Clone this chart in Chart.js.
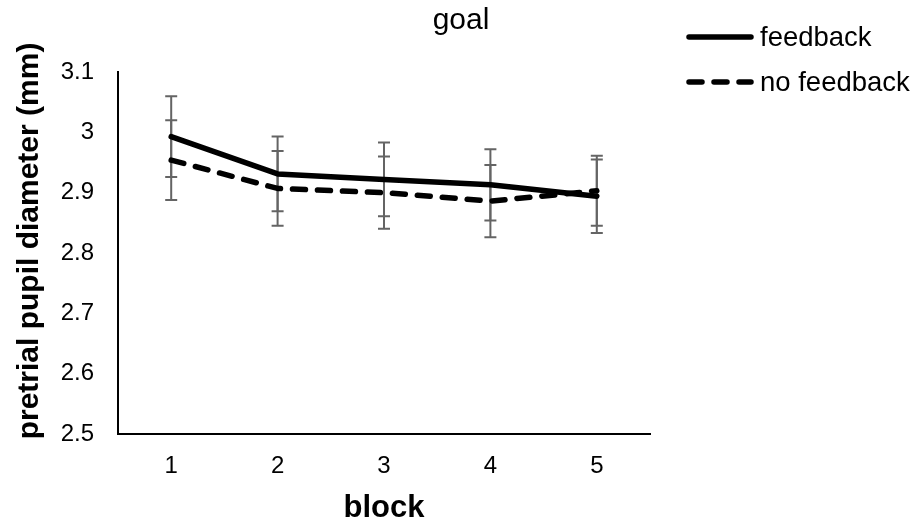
<!DOCTYPE html>
<html>
<head>
<meta charset="utf-8">
<script src="https://cdn.jsdelivr.net/npm/chart.js@4/dist/chart.umd.min.js"></script>
<style>
    html, body { margin: 0; padding: 0; background: #fff; }
    #chart { display: block; }
</style>
</head>
<body>
<canvas id="chart" width="913" height="525"></canvas>
<script>
const blocks = ['1', '2', '3', '4', '5'];
const feedbackMean = [2.993, 2.931, 2.922, 2.913, 2.894];
const feedbackErr = [0.067, 0.062, 0.061, 0.059, 0.061];
const noFeedbackMean = [2.954, 2.907, 2.900, 2.886, 2.903];
const noFeedbackErr = [0.066, 0.062, 0.060, 0.060, 0.058];
const seriesNames = ['feedback', 'no feedback'];

const FONT = "'Liberation Sans', Arial, sans-serif";

// error bars go under the lines
const errorBars = {
    id: 'errorBars',
    beforeDatasetsDraw(chart) {
        const { ctx, scales: { x, y } } = chart;
        ctx.save();
        ctx.strokeStyle = '#646464';
        ctx.lineWidth = 2;
        chart.data.datasets.forEach(ds => {
            ds.data.forEach((v, i) => {
                const px = x.getPixelForValue(i);
                const top = y.getPixelForValue(v + ds.errors[i]);
                const bot = y.getPixelForValue(v - ds.errors[i]);
                ctx.beginPath();
                ctx.moveTo(px, top); ctx.lineTo(px, bot);
                ctx.moveTo(px - 6, top); ctx.lineTo(px + 6, top);
                ctx.moveTo(px - 6, bot); ctx.lineTo(px + 6, bot);
                ctx.stroke();
            });
        });
        ctx.restore();
    }
};

// chart title, y axis title and legend are placed by hand
const annotations = {
    id: 'annotations',
    afterDraw(chart) {
        const { ctx } = chart;
        ctx.save();
        ctx.fillStyle = '#000';
        ctx.textBaseline = 'middle';

        ctx.font = `30px ${FONT}`;
        ctx.textAlign = 'center';
        ctx.fillText('goal', 461, 21);

        ctx.save();
        ctx.translate(30, 241);
        ctx.rotate(-Math.PI / 2);
        ctx.font = `bold 30px ${FONT}`;
        ctx.fillText('pretrial pupil diameter (mm)', 0, 0);
        ctx.restore();

        ctx.font = `27.5px ${FONT}`;
        ctx.textAlign = 'left';
        chart.data.datasets.forEach((ds, i) => {
            const ly = 37 + i * 45;
            ctx.beginPath();
            ctx.strokeStyle = ds.borderColor;
            ctx.lineWidth = ds.borderWidth;
            ctx.lineCap = 'round';
            ctx.setLineDash(ds.borderDash || []);
            ctx.moveTo(689, ly);
            ctx.lineTo(751, ly);
            ctx.stroke();
            ctx.setLineDash([]);
            ctx.fillText(ds.label, 760, ly + 1);
        });
        ctx.restore();
    }
};

new Chart(document.getElementById('chart').getContext('2d'), {
    type: 'line',
    data: {
        labels: blocks,
        datasets: [
            {
                label: seriesNames[0],
                data: feedbackMean,
                errors: feedbackErr,
                borderColor: '#000',
                borderWidth: 5.5,
                borderCapStyle: 'round',
                borderJoinStyle: 'round',
                pointRadius: 0,
                tension: 0
            },
            {
                label: seriesNames[1],
                data: noFeedbackMean,
                errors: noFeedbackErr,
                borderColor: '#000',
                borderWidth: 5.5,
                borderDash: [13, 12],
                borderCapStyle: 'round',
                borderJoinStyle: 'round',
                pointRadius: 0,
                tension: 0
            }
        ]
    },
    options: {
        responsive: false,
        animation: false,
        layout: { padding: { top: 72, right: 263, bottom: 0, left: 0 } },
        plugins: {
            legend: { display: false },
            title: { display: false },
            tooltip: { enabled: false }
        },
        scales: {
            x: {
                offset: true,
                grid: { display: false, drawTicks: false },
                border: { display: true, color: '#000', width: 2 },
                ticks: { color: '#000', padding: 18, font: { family: FONT, size: 24 } },
                title: {
                    display: true,
                    text: 'block',
                    color: '#000',
                    padding: { top: 0, bottom: -2 },
                    font: { family: FONT, size: 31, weight: 'bold' }
                },
                afterFit(scale) { scale.height = 91; }
            },
            y: {
                min: 2.5,
                max: 3.1,
                grid: { display: false, drawTicks: false },
                border: { display: true, color: '#000', width: 2 },
                ticks: {
                    stepSize: 0.1,
                    color: '#000',
                    padding: 24,
                    font: { family: FONT, size: 24 },
                    callback: v => String(Number(v.toFixed(1)))
                },
                afterFit(scale) { scale.width = 118; }
            }
        }
    },
    plugins: [errorBars, annotations]
});
</script>
</body>
</html>
